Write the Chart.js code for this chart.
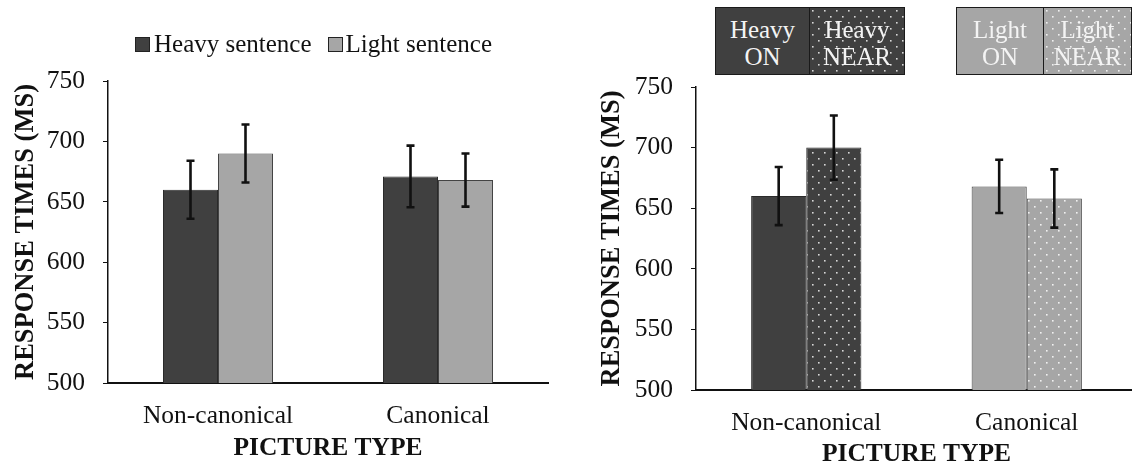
<!DOCTYPE html>
<html>
<head>
<meta charset="utf-8">
<script src="https://cdn.jsdelivr.net/npm/chart.js@4"></script>
<style>
  html, body { margin: 0; padding: 0; background: #fff; }
  body { width: 1132px; height: 465px; overflow: hidden; position: relative; font-family: 'Liberation Serif', serif; }
  canvas { position: absolute; top: 0; }
  #leftChart { left: 0; }
  #rightChart { left: 588px; }
  .lg { position: absolute; top: 32px; left: 135px; height: 24px; display: flex; align-items: center; font-size: 25px; line-height: 24px; color: #111; white-space: nowrap; }
  .lg .sq { width: 15px; height: 15px; box-sizing: border-box; border: 1px solid #222; }
  .key { position: absolute; top: 7px; height: 68px; box-sizing: border-box; border: 1.5px solid #1a1a1a;
         display: flex; flex-direction: column; justify-content: center; align-items: center;
         font-size: 25px; line-height: 27px; padding-top: 3px; color: #f4f4f4; }
</style>
</head>
<body>
<canvas id="leftChart" width="560" height="465"></canvas>
<canvas id="rightChart" width="549" height="465"></canvas>

<div class="lg">
  <span class="sq" id="sqHeavy"></span><span style="margin-left:4px">Heavy sentence</span>
  <span class="sq" id="sqLight" style="margin-left:16px"></span><span style="margin-left:3px">Light sentence</span>
</div>
<div id="keys"></div>

<script>
const categories = ['Non-canonical', 'Canonical'];
const yTicks = [500, 550, 600, 650, 700, 750];

// left panel: sentence weight
const heavyMeans = [660, 671];
const heavyErrors = [24, 25.5];
const lightMeans = [690, 668];
const lightErrors = [24, 22];

// right panel: ON / NEAR (heavy in non-canonical, light in canonical)
const keyLabels = [['Heavy', 'ON'], ['Heavy', 'NEAR'], ['Light', 'ON'], ['Light', 'NEAR']];
const onMeans = [660, 668];
const onErrors = [24, 22];
const nearMeans = [700, 658];
const nearErrors = [26.5, 24];

const DARK = '#404040';
const LIGHT = '#a6a6a6';

Chart.defaults.font.family = "'Liberation Serif', 'Times New Roman', serif";
Chart.defaults.color = '#111';

function dotTile(bg, dot) {
    const c = document.createElement('canvas');
    c.width = 12; c.height = 12;
    const g = c.getContext('2d');
    g.fillStyle = bg;
    g.fillRect(0, 0, 12, 12);
    g.fillStyle = dot;
    g.fillRect(2, 2, 1.6, 1.6);
    g.fillRect(8, 8, 1.6, 1.6);
    return c;
}
const darkTile = dotTile(DARK, '#d8d8d8');
const lightTile = dotTile(LIGHT, '#f0f0f0');
const darkDots = darkTile.getContext('2d').createPattern(darkTile, 'repeat');
const lightDots = lightTile.getContext('2d').createPattern(lightTile, 'repeat');

const errorBars = {
    id: 'errorBars',
    afterDatasetsDraw(chart) {
        const { ctx } = chart;
        const y = chart.scales.y;
        ctx.save();
        ctx.strokeStyle = '#111';
        ctx.lineWidth = 2.6;
        chart.data.datasets.forEach((ds, i) => {
            const meta = chart.getDatasetMeta(i);
            meta.data.forEach((bar, j) => {
                const v = ds.data[j];
                const e = ds.errors[j];
                const top = y.getPixelForValue(v + e);
                const bot = y.getPixelForValue(v - e);
                ctx.beginPath();
                ctx.moveTo(bar.x, top); ctx.lineTo(bar.x, bot);
                ctx.moveTo(bar.x - 4, top); ctx.lineTo(bar.x + 4, top);
                ctx.moveTo(bar.x - 4, bot); ctx.lineTo(bar.x + 4, bot);
                ctx.stroke();
            });
        });
        ctx.restore();
    }
};

function panelOptions(topPad, axisHeight, xTitlePad, yTitlePad) {
    return {
        responsive: false,
        devicePixelRatio: 1,
        animation: false,
        layout: { padding: { top: topPad, right: 12, bottom: 0, left: 0 } },
        plugins: { legend: { display: false }, tooltip: { enabled: false } },
        scales: {
            x: {
                grid: { display: false },
                border: { display: true, color: '#111', width: 2 },
                ticks: { font: { size: 25.5 }, padding: 10, color: '#111' },
                title: { display: true, text: 'PICTURE TYPE', color: '#111',
                         font: { size: 25.5, weight: 'bold', lineHeight: 1 },
                         padding: { top: 0, bottom: xTitlePad } },
                afterFit(scale) { scale.height = axisHeight; }
            },
            y: {
                min: yTicks[0],
                max: yTicks[yTicks.length - 1],
                ticks: { stepSize: 50, font: { size: 25.5 }, padding: 18, color: '#111' },
                afterBuildTicks(scale) { scale.ticks = yTicks.map(v => ({ value: v })); },
                grid: { drawOnChartArea: false, drawTicks: true, tickLength: 5, color: '#111', lineWidth: 1 },
                border: { display: true, color: '#111', width: 1.5 },
                title: { display: true, text: 'RESPONSE TIMES (MS)', color: '#111',
                         font: { size: 26.5, weight: 'bold', lineHeight: 1 },
                         padding: { top: yTitlePad, bottom: 0 } },
                afterFit(scale) { scale.width = 108; }
            }
        }
    };
}

new Chart(document.getElementById('leftChart'), {
    type: 'bar',
    data: {
        labels: categories,
        datasets: [
            { label: 'Heavy sentence', data: heavyMeans, errors: heavyErrors,
              backgroundColor: DARK, borderColor: '#2a2a2a', borderWidth: 1,
              categoryPercentage: 0.5, barPercentage: 1 },
            { label: 'Light sentence', data: lightMeans, errors: lightErrors,
              backgroundColor: LIGHT, borderColor: '#444', borderWidth: 1,
              categoryPercentage: 0.5, barPercentage: 1 }
        ]
    },
    options: panelOptions(81, 82, 4, 13),
    plugins: [errorBars]
});

const rightOpts = panelOptions(87, 75, -2, 11);
rightOpts.layout.padding.right = 0;
new Chart(document.getElementById('rightChart'), {
    type: 'bar',
    data: {
        labels: categories,
        datasets: [
            { label: 'ON', data: onMeans, errors: onErrors,
              backgroundColor: [DARK, LIGHT], borderColor: ['#2a2a2a', '#444'], borderWidth: 1,
              categoryPercentage: 0.5, barPercentage: 1 },
            { label: 'NEAR', data: nearMeans, errors: nearErrors,
              backgroundColor: [darkDots, lightDots], borderColor: ['#2a2a2a', '#444'], borderWidth: 1,
              categoryPercentage: 0.5, barPercentage: 1 }
        ]
    },
    options: rightOpts,
    plugins: [errorBars]
});

// legends
document.getElementById('sqHeavy').style.background = DARK;
document.getElementById('sqLight').style.background = LIGHT;

const keyBoxes = [
    { left: 715, width: 95, bg: DARK },
    { left: 810, width: 95, bg: 'url(' + darkTile.toDataURL() + ')' },
    { left: 956, width: 88, bg: LIGHT },
    { left: 1044, width: 88, bg: 'url(' + lightTile.toDataURL() + ')' }
];
const keys = document.getElementById('keys');
keyBoxes.forEach((k, i) => {
    const d = document.createElement('div');
    d.className = 'key';
    d.style.left = k.left + 'px';
    d.style.width = k.width + 'px';
    d.style.background = k.bg;
    if (i % 2 === 1) d.style.borderLeft = 'none';
    keyLabels[i].forEach(t => {
        const s = document.createElement('span');
        s.textContent = t;
        d.appendChild(s);
    });
    keys.appendChild(d);
});
</script>
</body>
</html>
